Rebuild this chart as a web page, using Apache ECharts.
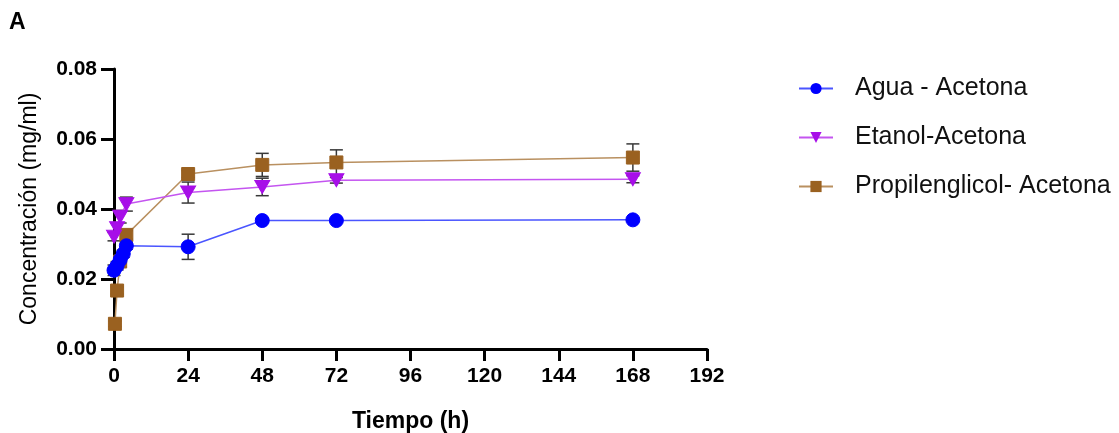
<!DOCTYPE html>
<html>
<head>
<meta charset="utf-8">
<script src="https://cdn.jsdelivr.net/npm/echarts@6/dist/echarts.min.js"></script>
<style>
  html, body { margin: 0; padding: 0; background: #fff; }
  #chart { width: 1119px; height: 433px; }
</style>
</head>
<body>
<div id="chart"></div>
<script>
// Release profiles: concentration (mg/ml) over time (h), mean and SD
const seriesNames = ['Agua - Acetona', 'Etanol-Acetona', 'Propilenglicol- Acetona'];

const aguaTime = [0, 1, 2, 3, 4, 24, 48, 72, 168];
const aguaConc = [0.0225, 0.0238, 0.0255, 0.0272, 0.0295, 0.0292, 0.0367, 0.0367, 0.0369];
const aguaSD   = [0.0015, 0.0012, 0.0012, 0.0010, 0.0010, 0.0036, 0.0005, 0.0005, 0.0005];

const etanolTime = [0, 1, 2, 4, 24, 48, 72, 168];
const etanolConc = [0.0321, 0.0345, 0.0378, 0.0414, 0.0447, 0.0463, 0.0482, 0.0485];
const etanolSD   = [0.0012, 0.0015, 0.0018, 0.0020, 0.0030, 0.0025, 0.0008, 0.0010];

const propTime = [0.3, 1, 2, 4, 24, 48, 72, 168];
const propConc = [0.0072, 0.0167, 0.0250, 0.0326, 0.0500, 0.0526, 0.0533, 0.0547];
const propSD   = [0.0008, 0.0010, 0.0015, 0.0012, 0.0010, 0.0033, 0.0036, 0.0039];

const xTicks = { min: 0, max: 192, interval: 24 };
const yTicks = { min: 0, max: 0.08, interval: 0.02 };

const colors = {
  agua:   { line: '#4a55ff', mark: '#0000ff' },
  etanol: { line: '#c455f0', mark: '#a70ee8' },
  prop:   { line: '#b99060', mark: '#9a6120' }
};

function pairs(t, v) { return t.map((x, i) => [x, v[i]]); }
function errRows(t, v, s) { return t.map((x, i) => [x, v[i] - s[i], v[i] + s[i]]); }

// vertical error bar with caps, drawn under the markers
function errorBar(params, api) {
  const x = api.value(0);
  const lo = api.coord([x, api.value(1)]);
  const hi = api.coord([x, api.value(2)]);
  const cap = 6.5;
  const style = { stroke: '#383838', lineWidth: 1.5 };
  return {
    type: 'group',
    children: [
      { type: 'line', shape: { x1: lo[0], y1: lo[1], x2: hi[0], y2: hi[1] }, style },
      { type: 'line', shape: { x1: lo[0] - cap, y1: lo[1], x2: lo[0] + cap, y2: lo[1] }, style },
      { type: 'line', shape: { x1: hi[0] - cap, y1: hi[1], x2: hi[0] + cap, y2: hi[1] }, style }
    ]
  };
}

const chart = echarts.init(document.getElementById('chart'), null, { renderer: 'canvas' });

const axisFont = 'Liberation Sans, Arial, sans-serif';

chart.setOption({
  animation: false,
  backgroundColor: '#ffffff',
  title: {
    text: 'A',
    left: 9, top: 11,
    padding: 0,
    textStyle: { fontFamily: axisFont, fontWeight: 'bold', fontSize: 23, color: '#000' }
  },
  grid: { left: 114, right: 412, top: 69, bottom: 84, containLabel: false, outerBoundsMode: 'none' },
  legend: {
    orient: 'vertical',
    left: 798, top: 76,
    padding: 0,
    itemGap: 24,
    itemWidth: 34, itemHeight: 14,
    textStyle: { fontFamily: axisFont, fontSize: 25, color: '#111', padding: [0, 0, 0, 17] },
    data: seriesNames
  },
  xAxis: {
    type: 'value',
    min: xTicks.min, max: xTicks.max, interval: xTicks.interval,
    name: 'Tiempo (h)',
    nameLocation: 'middle',
    nameGap: 61,
    nameTextStyle: { fontFamily: axisFont, fontWeight: 'bold', fontSize: 23, color: '#000' },
    axisLine: { show: true, onZero: false, lineStyle: { color: '#000', width: 3 } },
    axisTick: { show: true, inside: false, length: 12, lineStyle: { color: '#000', width: 3 } },
    axisLabel: { margin: 17, fontFamily: axisFont, fontWeight: 'bold', fontSize: 21, color: '#000' },
    splitLine: { show: false }
  },
  yAxis: {
    type: 'value',
    min: yTicks.min, max: yTicks.max, interval: yTicks.interval,
    name: 'Concentración (mg/ml)',
    nameLocation: 'middle',
    nameGap: 73,
    nameTextStyle: { fontFamily: axisFont, fontSize: 23, color: '#000' },
    axisLine: { show: true, onZero: false, lineStyle: { color: '#000', width: 3 } },
    axisTick: { show: true, inside: false, length: 13, lineStyle: { color: '#000', width: 3 } },
    axisLabel: {
      margin: 17, fontFamily: axisFont, fontWeight: 'bold', fontSize: 21, color: '#000',
      formatter: v => v.toFixed(2)
    },
    splitLine: { show: false }
  },
  series: [
    { type: 'custom', name: 'errA', renderItem: errorBar, data: errRows(aguaTime, aguaConc, aguaSD), z: 1, silent: true },
    { type: 'custom', name: 'errE', renderItem: errorBar, data: errRows(etanolTime, etanolConc, etanolSD), z: 1, silent: true },
    { type: 'custom', name: 'errP', renderItem: errorBar, data: errRows(propTime, propConc, propSD), z: 1, silent: true },
    {
      name: seriesNames[2], type: 'line', data: pairs(propTime, propConc), z: 3,
      symbol: 'rect', symbolSize: 13, showAllSymbol: true,
      lineStyle: { color: colors.prop.line, width: 1.5 },
      itemStyle: { color: colors.prop.mark, borderColor: colors.prop.mark }
    },
    {
      name: seriesNames[1], type: 'line', data: pairs(etanolTime, etanolConc), z: 4,
      symbol: 'triangle', symbolRotate: 180, symbolSize: [15, 13], showAllSymbol: true,
      lineStyle: { color: colors.etanol.line, width: 1.5 },
      itemStyle: { color: colors.etanol.mark, borderColor: colors.etanol.mark }
    },
    {
      name: seriesNames[0], type: 'line', data: pairs(aguaTime, aguaConc), z: 5,
      symbol: 'circle', symbolSize: 14, showAllSymbol: true,
      lineStyle: { color: colors.agua.line, width: 1.5 },
      itemStyle: { color: colors.agua.mark, borderColor: colors.agua.mark }
    }
  ]
});
</script>
</body>
</html>
